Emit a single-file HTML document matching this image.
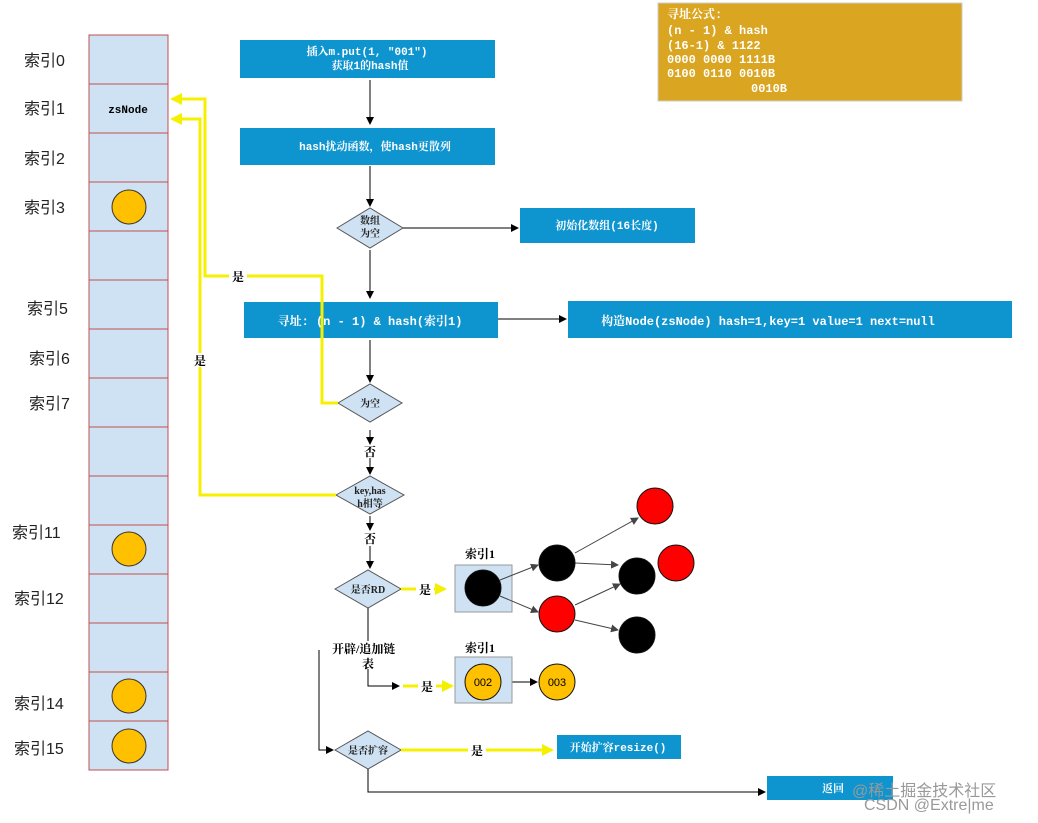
<!DOCTYPE html>
<html><head><meta charset="utf-8"><style>
body{margin:0;background:#fff;width:1038px;height:823px;overflow:hidden}
svg{display:block}
text{font-family:"Liberation Serif","Noto Serif CJK SC",serif;font-weight:bold}
text.n{font-family:"Liberation Sans","Noto Sans CJK SC",sans-serif;font-weight:normal}
text.m{font-family:"Liberation Mono","Noto Serif CJK SC",monospace;font-weight:bold}
</style></head><body>
<svg width="1038" height="823" viewBox="0 0 1038 823">
<defs>
<marker id="a" markerWidth="8" markerHeight="8" refX="7" refY="4" orient="auto" markerUnits="userSpaceOnUse"><path d="M0,0 L8,4 L0,8z" fill="#000"/></marker>
<marker id="g" markerWidth="8" markerHeight="8" refX="7" refY="4" orient="auto" markerUnits="userSpaceOnUse"><path d="M0,0 L8,4 L0,8z" fill="#444"/></marker>
<marker id="y" markerWidth="12" markerHeight="12" refX="10" refY="6" orient="auto" markerUnits="userSpaceOnUse"><path d="M0,0 L12,6 L0,12z" fill="#f5f000"/></marker>
</defs>
<rect x="89" y="35" width="79" height="735" fill="#cfe2f3" stroke="#c0504d"/>
<g stroke="#c0504d">
<line x1="89" y1="84" x2="168" y2="84"/><line x1="89" y1="133" x2="168" y2="133"/><line x1="89" y1="182" x2="168" y2="182"/><line x1="89" y1="231" x2="168" y2="231"/><line x1="89" y1="280" x2="168" y2="280"/><line x1="89" y1="329" x2="168" y2="329"/><line x1="89" y1="378" x2="168" y2="378"/><line x1="89" y1="427" x2="168" y2="427"/><line x1="89" y1="476" x2="168" y2="476"/><line x1="89" y1="525" x2="168" y2="525"/><line x1="89" y1="574" x2="168" y2="574"/><line x1="89" y1="623" x2="168" y2="623"/><line x1="89" y1="672" x2="168" y2="672"/><line x1="89" y1="721" x2="168" y2="721"/>
</g>
<text x="128" y="113" font-size="11" text-anchor="middle" class="m">zsNode</text>
<g fill="#ffc000" stroke="#333">
<circle cx="129" cy="207" r="17"/><circle cx="129" cy="549" r="17"/><circle cx="129" cy="696" r="17"/><circle cx="129" cy="746" r="17"/>
</g>
<g font-size="16" fill="#222">
<text class="n" x="24" y="66">索引0</text><text class="n" x="24" y="114">索引1</text><text class="n" x="24" y="164">索引2</text><text class="n" x="24" y="213">索引3</text>
<text class="n" x="27" y="314">索引5</text><text class="n" x="29" y="364">索引6</text><text class="n" x="29" y="409">索引7</text>
<text class="n" x="12" y="538">索引11</text><text class="n" x="14" y="604">索引12</text><text class="n" x="14" y="709">索引14</text><text class="n" x="14" y="754">索引15</text>
</g>
<rect x="658" y="3" width="304" height="98" fill="#daa520" stroke="#ccc"/>
<g fill="#fff" font-size="12" xml:space="preserve" style="white-space:pre">
<text class="m" x="667" y="18">寻址公式:</text><text class="m" x="667" y="34">(n - 1) &amp; hash</text><text class="m" x="667" y="49">(16-1)  &amp;  1122</text>
<text class="m" x="667" y="63">0000 0000  1111B</text><text class="m" x="667" y="77">0100 0110  0010B</text><text class="m" x="751" y="92">0010B</text>
</g>
<g fill="#0e95cf">
<rect x="240" y="40" width="255" height="38"/><rect x="240" y="128" width="255" height="37"/>
<rect x="520" y="208" width="175" height="35"/><rect x="244" y="302" width="254" height="36"/>
<rect x="568" y="301" width="444" height="37"/><rect x="557" y="735" width="124" height="24"/>
<rect x="767" y="776" width="126" height="24"/>
</g>
<g fill="#fff" font-size="11" text-anchor="middle" xml:space="preserve" style="white-space:pre">
<text class="m" x="367" y="55">插入m.put(1, "001")</text><text class="m" x="370" y="69">获取1的hash值</text>
<text class="m" x="375" y="150">hash扰动函数，使hash更散列</text>
<text class="m" x="607" y="229">初始化数组(16长度)</text>
<text class="m" x="370" y="325" font-size="12">寻址: (n - 1) &amp; hash(索引1)</text>
<text class="m" x="768" y="325" font-size="12">构造Node(zsNode)  hash=1,key=1 value=1  next=null</text>
<text class="m" x="618" y="751">开始扩容resize()</text><text class="m" x="833" y="792">返回</text>
</g>
<g fill="#cfe2f3" stroke="#555">
<path d="M337,228 L370,208 L403,228 L370,248z"/><path d="M338,403 L370,384 L402,403 L370,422z"/>
<path d="M336,495 L370,476 L404,495 L370,514z"/><path d="M335,589 L368,570 L401,589 L368,608z"/>
<path d="M335,750 L368,731 L401,750 L368,769z"/>
</g>
<g font-size="10" text-anchor="middle" fill="#222">
<text x="370" y="224">数组</text><text x="370" y="237">为空</text><text x="370" y="407">为空</text>
<text x="370" y="494">key,has</text><text x="370" y="507">h相等</text><text x="368" y="593">是否RD</text><text x="368" y="754">是否扩容</text>
</g>
<g stroke="#000" fill="none" marker-end="url(#a)">
<line x1="370" y1="80" x2="370" y2="124"/><line x1="370" y1="166" x2="370" y2="206"/>
<line x1="403" y1="228" x2="518" y2="228"/><line x1="370" y1="250" x2="370" y2="298"/>
<line x1="498" y1="319" x2="566" y2="319"/><line x1="370" y1="340" x2="370" y2="382"/>
<line x1="370" y1="430" x2="370" y2="444"/><line x1="370" y1="458" x2="370" y2="474"/>
<line x1="370" y1="516" x2="370" y2="530"/><line x1="370" y1="546" x2="370" y2="568"/>
<polyline points="368,668 368,686 399,686"/><polyline points="319,650 319,750 333,750"/>
<polyline points="368,769 368,792 765,792"/><line x1="501" y1="682" x2="537" y2="682"/>
</g>
<line x1="368" y1="608" x2="368" y2="642" stroke="#000"/>
<text x="370" y="456" font-size="12" text-anchor="middle">否</text>
<text x="370" y="543" font-size="12" text-anchor="middle">否</text>
<rect x="330" y="641" width="76" height="28" fill="#fff"/>
<text x="332" y="653" font-size="12">开辟/追加链</text><text x="362" y="668" font-size="12">表</text>
<g stroke="#f5f000" stroke-width="3" fill="none">
<polyline points="338,403 322,403 322,276 205,276 205,99 172,99" marker-end="url(#y)"/>
<polyline points="336,495 200,495 200,119 172,119" marker-end="url(#y)"/>
<line x1="401" y1="589" x2="445" y2="589" marker-end="url(#y)"/>
<line x1="403" y1="686" x2="452" y2="686" marker-end="url(#y)"/>
<line x1="401" y1="750" x2="552" y2="750" marker-end="url(#y)"/>
</g>
<g font-size="12" text-anchor="middle">
<rect x="229" y="269" width="18" height="14" fill="#fff"/><text x="238" y="281">是</text>
<rect x="191" y="353" width="18" height="14" fill="#fff"/><text x="200" y="365">是</text>
<rect x="416" y="582" width="18" height="14" fill="#fff"/><text x="425" y="594">是</text>
<rect x="418" y="679" width="18" height="14" fill="#fff"/><text x="427" y="691">是</text>
<rect x="468" y="743" width="18" height="14" fill="#fff"/><text x="477" y="755">是</text>
<text x="480" y="558">索引1</text><text x="480" y="652">索引1</text>
</g>
<rect x="455" y="565" width="57" height="47" fill="#cfe2f3" stroke="#999"/>
<rect x="455" y="657" width="57" height="46" fill="#cfe2f3" stroke="#999"/>
<g stroke="#444" marker-end="url(#g)">
<line x1="500" y1="580" x2="538" y2="565"/><line x1="500" y1="596" x2="538" y2="612"/>
<line x1="575" y1="563" x2="618" y2="565"/><line x1="575" y1="553" x2="638" y2="518"/>
<line x1="575" y1="605" x2="620" y2="584"/><line x1="575" y1="620" x2="618" y2="630"/>
</g>
<g stroke="#111">
<circle cx="483" cy="588" r="18" fill="#000"/><circle cx="557" cy="563" r="18" fill="#000"/>
<circle cx="557" cy="614" r="18" fill="#f00"/><circle cx="637" cy="576" r="18" fill="#000"/>
<circle cx="637" cy="635" r="18" fill="#000"/><circle cx="655" cy="506" r="18" fill="#f00"/>
<circle cx="676" cy="563" r="18" fill="#f00"/>
<circle cx="483" cy="682" r="18" fill="#ffc000"/><circle cx="557" cy="682" r="18" fill="#ffc000"/>
</g>
<g font-size="11" text-anchor="middle">
<text class="n" x="483" y="686">002</text><text class="n" x="557" y="686">003</text>
</g>
<g font-size="16" fill="#999">
<text class="n" x="852" y="796">@稀土掘金技术社区</text><text class="n" x="864" y="810">CSDN @Extre|me</text>
</g>
</svg>
</body></html>
